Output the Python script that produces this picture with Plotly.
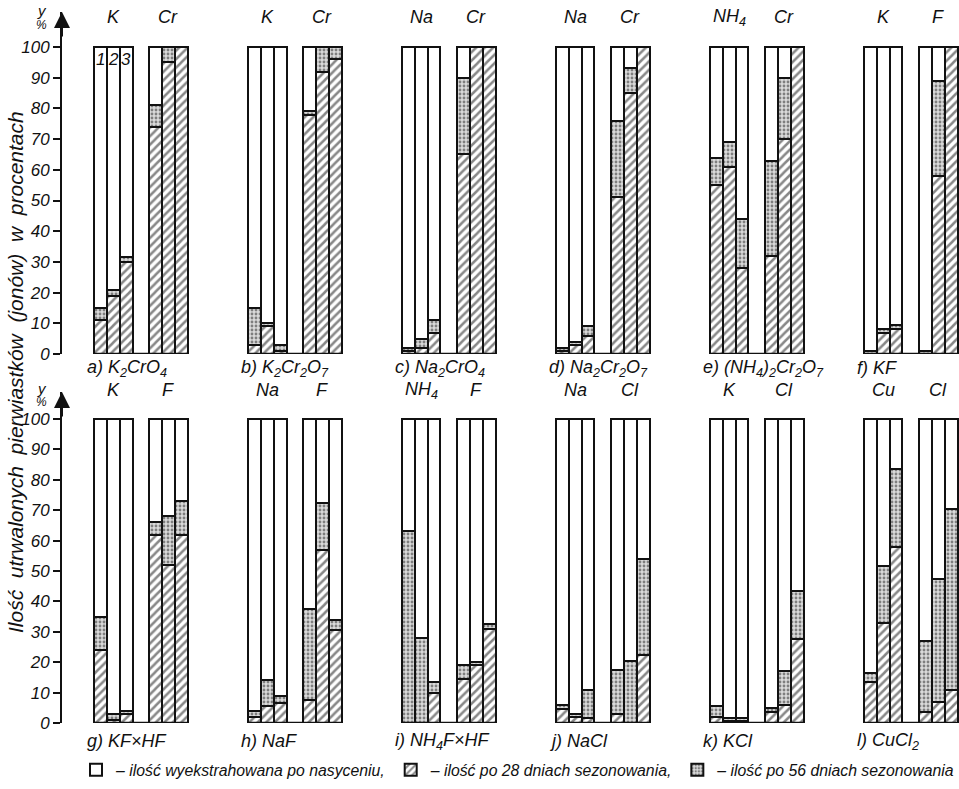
import plotly.graph_objects as go

# ---------------- data ----------------
panel_labels = ["a) K<sub>2</sub>CrO<sub>4</sub>", "b) K<sub>2</sub>Cr<sub>2</sub>O<sub>7</sub>",
                "c) Na<sub>2</sub>CrO<sub>4</sub>", "d) Na<sub>2</sub>Cr<sub>2</sub>O<sub>7</sub>",
                "e) (NH<sub>4</sub>)<sub>2</sub>Cr<sub>2</sub>O<sub>7</sub>", "f) KF",
                "g) KF×HF", "h) NaF", "i) NH<sub>4</sub>F×HF", "j) NaCl", "k) KCl", "l) CuCl<sub>2</sub>"]
cations = ["K", "K", "Na", "Na", "NH<sub>4</sub>", "K", "K", "Na", "NH<sub>4</sub>", "Na", "K", "Cu"]
anions = ["Cr", "Cr", "Cr", "Cr", "Cr", "F", "F", "F", "F", "Cl", "Cl", "Cl"]

# top of hatched part (after 28 days), bars 1,2,3 per panel
cation_28 = [[11, 19, 30], [3, 9, 1], [1, 2, 7], [1, 3, 6], [55, 61, 28], [0, 7, 8],
             [24, 1, 3], [2, 5.5, 6.5], [0, 0, 10], [4.5, 2, 1.5], [2, 0.5, 0.5], [13.5, 33, 58]]
# top of dotted part (after 56 days)
cation_56 = [[15, 21, 31.5], [15, 10, 3], [2, 5, 11], [2, 4, 9], [64, 69, 44], [1, 8, 9.5],
             [35, 3, 4], [4, 14, 9], [63, 28, 13.5], [6, 3, 11], [5.5, 1.5, 1.5], [16.5, 51.5, 83.5]]
anion_28 = [[74, 95, 100], [78, 92, 96], [65, 100, 100], [51, 85, 100], [32, 70, 100], [0, 58, 100],
            [62, 52, 62], [7.5, 57, 30.5], [14.5, 19, 31], [3, 0, 22.5], [3.5, 6, 27.5], [3.5, 7, 11]]
anion_56 = [[81, 100, 100], [79, 100, 100], [90, 100, 100], [76, 93, 100], [63, 90, 100], [1, 89, 100],
            [66, 68, 73], [37.5, 72.5, 34], [19, 20, 32.5], [17.5, 20.5, 54], [5, 17, 43.5], [27, 47.5, 70.5]]

y_ticks = list(range(0, 101, 10))
legend_names = ["– ilość wyekstrahowana po nasyceniu,", "– ilość po 28 dniach sezonowania,",
                "– ilość po 56 dniach sezonowania"]

# ---------------- layout helpers ----------------
FONT = "Liberation Sans, Arial, sans-serif"
W, H = 959, 789
ML = 62
PITCH = 12.0      # panel pitch in bar units
GOFF = 4.3        # offset of anion group
PXU = 12.83       # pixels per bar unit
XR = [-2.5, -2.5 + (W - ML) / PXU]

def py(p):   # reference pixel row -> paper y
    return min(1.0, 1 - p / H)

def px(p):   # reference pixel column -> paper x
    return (p - ML) / (W - ML)

fig = go.Figure()

hatch = dict(shape="/", fgcolor="#111", bgcolor="white", size=6, solidity=0.42)
dots = dict(shape=".", fgcolor="#222", bgcolor="#dadada", size=4, solidity=0.4)
line = dict(color="#111", width=2)

for row in (0, 1):
    xs, h, d, w = [], [], [], []
    for p in range(6):
        k = row * 6 + p
        for g, (v28, v56) in enumerate([(cation_28[k], cation_56[k]), (anion_28[k], anion_56[k])]):
            for b in range(3):
                xs.append(p * PITCH + g * GOFF + b + 0.5)
                h.append(v28[b])
                d.append(v56[b] - v28[b])
                w.append(100 - v56[b])
    xa = "x" if row == 0 else "x2"
    ya = "y" if row == 0 else "y2"
    show = row == 0
    fig.add_trace(go.Bar(x=xs, y=h, width=1, xaxis=xa, yaxis=ya, name=legend_names[1],
                         marker=dict(color="white", pattern=hatch, line=line),
                         showlegend=show, legendrank=2))
    fig.add_trace(go.Bar(x=xs, y=d, width=1, xaxis=xa, yaxis=ya, name=legend_names[2],
                         marker=dict(color="#dadada", pattern=dots, line=line),
                         showlegend=show, legendrank=3))
    fig.add_trace(go.Bar(x=xs, y=w, width=1, xaxis=xa, yaxis=ya, name=legend_names[0],
                         marker=dict(color="white", line=line),
                         showlegend=show, legendrank=1))

dom1 = [py(354), py(12)]
dom2 = [py(723), py(392)]
r1 = [0, (354 - 12) / 3.07]
r2 = [0, (723 - 392) / 3.04]

yax = dict(showline=True, linecolor="#111", linewidth=2, ticks="outside", ticklen=7, tickwidth=2,
           tickcolor="#111", tickvals=y_ticks, showgrid=False, zeroline=False, automargin=False,
           tickfont=dict(family=FONT, size=17, color="#111", style="italic"))
xax = dict(visible=False, range=XR, showgrid=False, zeroline=False)

fig.update_layout(
    width=W, height=H, margin=dict(l=ML, r=0, t=0, b=0, autoexpand=False),
    paper_bgcolor="white", plot_bgcolor="white", barmode="stack",
    xaxis=dict(xax, domain=[0, 1], anchor="y"),
    xaxis2=dict(xax, domain=[0, 1], anchor="y2"),
    yaxis=dict(yax, domain=dom1, range=r1, anchor="x"),
    yaxis2=dict(yax, domain=dom2, range=r2, anchor="x2"),
    font=dict(family=FONT, color="#111"),
    legend=dict(orientation="h", traceorder="normal", x=px(76), xanchor="left", y=py(770),
                yanchor="middle", font=dict(family=FONT, size=15.8, style="italic", color="#111"),
                bgcolor="rgba(0,0,0,0)", itemwidth=30),
)

ann = []
shapes = []
LBL = dict(family=FONT, size=18, style="italic")
for row in (0, 1):
    ya = "y" if row == 0 else "y2"
    xa = "x" if row == 0 else "x2"
    top_y = py(17 if row == 0 else 390)
    bot_y = py(368 if row == 0 else 741)
    for p in range(6):
        k = row * 6 + p
        base = p * PITCH
        ann.append(dict(x=base + 1.5, y=top_y, xref=xa, yref="paper", text=cations[k], showarrow=False,
                        xanchor="center", yanchor="middle", font=LBL))
        ann.append(dict(x=base + GOFF + 1.5, y=top_y, xref=xa, yref="paper", text=anions[k],
                        showarrow=False, xanchor="center", yanchor="middle", font=LBL))
        ann.append(dict(x=base - 0.7, y=bot_y, xref=xa, yref="paper", text=panel_labels[k],
                        xanchor="left", yanchor="middle", showarrow=False, font=LBL))
        shapes.append(dict(type="line", xref=xa, yref=ya, x0=base, x1=base + GOFF + 3, y0=0, y1=0,
                           line=dict(color="#111", width=2.5)))
    # arrow at top of y axis
    ann.append(dict(x=0, y=(dom1 if row == 0 else dom2)[1], xref="paper", yref="paper", text="",
                    showarrow=True, ax=0, ay=26, arrowhead=2, arrowsize=1.6, arrowwidth=2, arrowcolor="#111"))
    ann.append(dict(x=px(42), y=py(11 if row == 0 else 388), xref="paper", yref="paper",
                    xanchor="center", yanchor="middle",
                    text="y", showarrow=False, font=dict(family=FONT, size=15, style="italic")))
    ann.append(dict(x=px(41), y=py(25 if row == 0 else 402), xref="paper", yref="paper",
                    xanchor="center", yanchor="middle",
                    text="%", showarrow=False, font=dict(family=FONT, size=12, style="italic")))

# numbers of bars in panel a
for b in range(3):
    ann.append(dict(x=b + 0.5, y=96, xref="x", yref="y", text=str(b + 1), showarrow=False,
                    xanchor="center", yanchor="middle", font=dict(family=FONT, size=17, style="italic")))

ann.append(dict(x=px(15), y=py(372), xref="paper", yref="paper", xanchor="center", yanchor="middle",
                text="Ilość  utrwalonych  pierwiastków  (jonów)  w  procentach", textangle=-90,
                showarrow=False, font=dict(family=FONT, size=21, style="italic")))

fig.update_layout(annotations=ann, shapes=shapes)
fig.write_html("out.html", config={"displayModeBar": False},
               post_script="document.body.style.margin='0px';"
                           "document.documentElement.style.overflow='hidden';")
